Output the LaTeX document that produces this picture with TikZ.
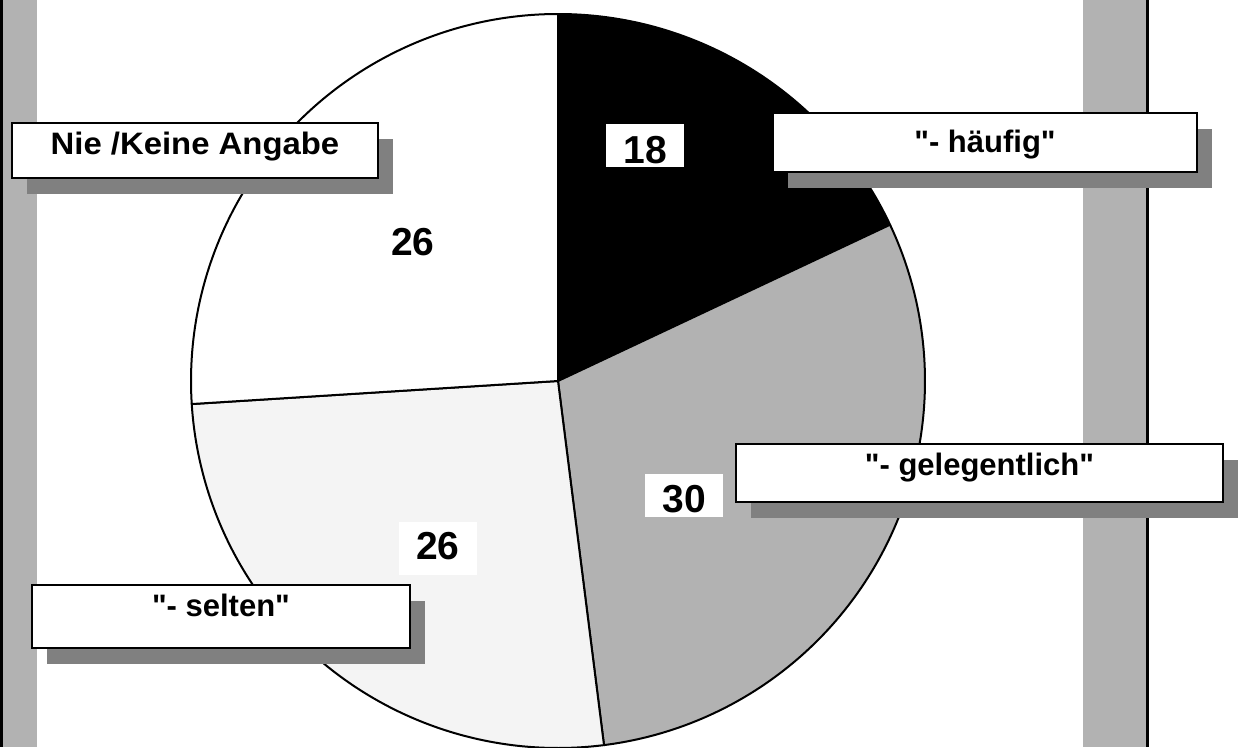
\documentclass[tikz,border=0pt]{standalone}
\usepackage{fontspec}
\setmainfont{Liberation Sans}[Ligatures=TeXOff]
\usetikzlibrary{shadows}
\definecolor{midgray}{HTML}{B2B2B2}
\definecolor{lightslice}{HTML}{F4F4F4}
\definecolor{shadowgray}{HTML}{808080}
\tikzset{
  labelbox/.style={draw=black, line width=2pt, fill=white, inner sep=0pt,
    font=\fontsize{31}{36}\selectfont\bfseries,
    general shadow={fill=shadowgray, draw=none, shadow xshift=15pt, shadow yshift=-16pt}},
  numbox/.style={fill=white, inner sep=0pt, minimum width=78pt,
    font=\fontsize{39}{44}\selectfont\bfseries},
  slice/.style={draw=black, line width=2pt, line join=round},
}
\begin{document}
\begin{tikzpicture}[x=1pt, y=-1pt]
\useasboundingbox (0,0) rectangle (1239,747);
\fill[white] (0,0) rectangle (1239,747);
% side bars
\fill[black] (0,0) rectangle (2.5,747);
\fill[midgray] (2.5,0) rectangle (37,747);
\fill[midgray] (1083,0) rectangle (1146,747);
\fill[black] (1146,0) rectangle (1149,747);
% pie
\coordinate (C) at (558,381);
\filldraw[slice, fill=black] (C) -- ++(-90:367) arc[start angle=-90, end angle=-25.2, radius=367] -- cycle;
\filldraw[slice, fill=midgray] (C) -- ++(-25.2:367) arc[start angle=-25.2, end angle=82.8, radius=367] -- cycle;
\filldraw[slice, fill=lightslice] (C) -- ++(82.8:367) arc[start angle=82.8, end angle=176.4, radius=367] -- cycle;
\filldraw[slice, fill=white] (C) -- ++(176.4:367) arc[start angle=176.4, end angle=270, radius=367] -- cycle;
% value labels
\node[numbox, text height=39pt, text depth=4pt] (v18) at (645,124) [anchor=north] {18};
\node[numbox, text height=38pt, text depth=5pt] (v30) at (684,474) [anchor=north] {30};
\node[numbox, text height=37pt, text depth=16pt] (v26b) at (438,522) [anchor=north] {26};
\node[font=\fontsize{39}{44}\selectfont\bfseries, inner sep=0pt, anchor=base] (v26a) at (413,255) {26};
% category labels
\node[labelbox, minimum width=366pt, text height=31pt, text depth=24pt, anchor=north] (nie) at (195,122) {\scalebox{1.06}[1]{Nie /Keine Angabe}};
\node[labelbox, minimum width=424pt, text height=39pt, text depth=20pt, anchor=north] (haeufig) at (985,112) {"- häufig"};
\node[labelbox, minimum width=487pt, text height=31pt, text depth=27pt, anchor=north] (gel) at (979.5,443) {"- gelegentlich"};
\node[labelbox, minimum width=378pt, text height=31pt, text depth=32pt, anchor=north] (selten) at (221,584) {"- selten"};
\end{tikzpicture}
\end{document}
